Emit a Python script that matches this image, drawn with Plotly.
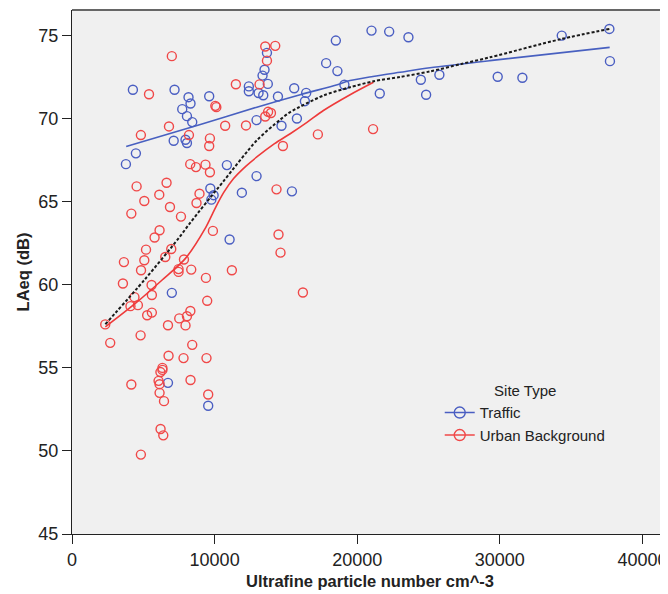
import plotly.graph_objects as go

# ---- data (x in particles cm^-3, y in dB) ----
traffic_x = [4270, 7190, 8170, 8310, 9620, 7730, 8060, 8430, 12400, 12400,
             12940, 7130, 7960, 8060, 4480, 3780, 10860, 12940, 9700, 9930,
             9770, 11910, 11050, 7000, 6730, 9550, 13670, 13500, 13360, 13730,
             13080, 13410, 14440, 15580, 16420, 16330, 17820, 18500, 18610, 19100,
             21000, 22240, 21580, 15770, 14690, 15420, 23590, 34340, 37680, 37720,
             24460, 25760, 24830, 29850, 31580]
traffic_y = [71.75, 71.75, 71.30, 70.92, 71.36, 70.58, 70.16, 69.80, 71.95, 71.66,
             69.92, 68.68, 68.74, 68.54, 67.92, 67.27, 67.21, 66.55, 65.80, 65.40,
             65.13, 65.55, 62.73, 59.52, 54.10, 52.72, 73.97, 72.95, 72.60, 72.10,
             71.55, 71.42, 71.34, 71.84, 71.56, 71.06, 73.35, 74.71, 72.87, 72.05,
             75.31, 75.25, 71.52, 70.02, 69.58, 65.63, 74.91, 75.01, 75.41, 73.47,
             72.35, 72.65, 71.45, 72.53, 72.47]

urban_x = [7000, 5400, 10050, 10120, 11490, 13150, 6800, 4830, 8200, 10740,
           12200, 9670, 9620, 8290, 8690, 9360, 9670, 4530, 6630, 6120,
           8940, 5070, 8730, 4160, 6870, 7640, 9880, 6140, 5790, 5190,
           6960, 6540, 3640, 5070, 7850, 4840, 7470, 7470, 8360, 11210,
           9390, 3570, 5580, 5600, 4380, 4100, 4620, 9480, 8300, 8060,
           7520, 5600, 5270, 6730, 7960, 2330, 2680, 4810, 8430, 6770,
           7820, 9430, 6340, 6340, 6200, 4160, 6070, 6140, 8310, 6140,
           6450, 9550, 6210, 6400, 4830, 13550, 14250, 13670, 13750, 13950,
           13550, 21110, 17240, 14790, 14340, 14480, 14620, 16190]
urban_y = [73.77, 71.48, 70.78, 70.70, 72.08, 72.07, 69.54, 69.02, 69.02, 69.58,
           69.60, 68.82, 68.36, 67.27, 67.09, 67.24, 66.78, 65.93, 66.15, 65.43,
           65.49, 65.05, 64.93, 64.29, 64.69, 64.11, 63.25, 63.29, 62.85, 62.12,
           62.16, 61.68, 61.37, 61.48, 61.53, 60.88, 60.95, 60.78, 60.92, 60.88,
           60.42, 60.08, 59.99, 59.39, 59.26, 58.72, 58.78, 59.04, 58.43, 58.11,
           57.98, 58.33, 58.17, 57.57, 57.56, 57.62, 56.51, 56.96, 56.39, 55.73,
           55.59, 55.59, 55.00, 54.88, 54.75, 54.00, 54.22, 54.02, 54.27, 53.50,
           53.00, 53.40, 51.32, 50.94, 49.78, 74.35, 74.39, 73.50, 70.42, 70.35,
           70.14, 69.38, 69.06, 68.36, 65.75, 63.03, 61.94, 59.54]

# fit lines
traffic_fit_x = [3800, 9000, 12960, 16000, 18600, 19500, 21100, 23000, 25100, 29300, 37700]
traffic_fit_y = [68.33, 69.66, 70.70, 71.45, 72.05, 72.30, 72.55, 72.80, 73.07, 73.50, 74.30]

urban_fit_x = [2340, 4440, 6300, 7940, 9340, 10000, 10630, 11330, 12200, 12960,
               14200, 15300, 16500, 17630, 19500, 21140]
urban_fit_y = [57.47, 58.88, 60.28, 61.58, 63.40, 64.55, 65.55, 66.40, 67.15, 67.70,
               68.50, 69.10, 69.80, 70.50, 71.45, 72.20]

total_fit_x = [2340, 5130, 7470, 8300, 10630, 12960, 14600, 15300, 17630, 19500,
               21140, 23000, 25100, 27300, 29300, 34300, 37680]
total_fit_y = [57.63, 60.35, 62.80, 63.75, 66.25, 68.70, 69.95, 70.40, 71.40, 71.90,
               72.26, 72.52, 72.85, 73.30, 73.70, 74.80, 75.41]

x_ticks = [0, 10000, 20000, 30000, 40000]
y_ticks = [45, 50, 55, 60, 65, 70, 75]
series_names = ["Traffic", "Urban Background"]

BLUE = "#4a5ec2"
RED = "#f04848"
BLUE_LINE = "#4860c0"
RED_LINE = "#ee3a3a"
FONT = "Liberation Sans, Arial, sans-serif"

fig = go.Figure()

# scatter points
fig.add_trace(go.Scatter(x=traffic_x, y=traffic_y, mode="markers", showlegend=False,
                         marker=dict(symbol="circle-open", size=9, color=BLUE,
                                     line=dict(width=1.4, color=BLUE))))
fig.add_trace(go.Scatter(x=urban_x, y=urban_y, mode="markers", showlegend=False,
                         marker=dict(symbol="circle-open", size=9, color=RED,
                                     line=dict(width=1.4, color=RED))))

# fit lines
fig.add_trace(go.Scatter(x=traffic_fit_x, y=traffic_fit_y, mode="lines", showlegend=False,
                         line=dict(color=BLUE_LINE, width=1.6, shape="spline", smoothing=0.8)))
fig.add_trace(go.Scatter(x=urban_fit_x, y=urban_fit_y, mode="lines", showlegend=False,
                         line=dict(color=RED_LINE, width=1.6, shape="spline", smoothing=0.8)))
fig.add_trace(go.Scatter(x=total_fit_x, y=total_fit_y, mode="lines", showlegend=False,
                         line=dict(color="#1a1a1a", width=2, dash="3px,2px",
                                   shape="spline", smoothing=0.8)))

# legend entries (line + open circle)
for name, col in zip(series_names, [BLUE, RED]):
    fig.add_trace(go.Scatter(x=[None], y=[None], mode="lines+markers", name=name,
                             line=dict(color=col, width=1.4),
                             marker=dict(symbol="circle-open", size=11, color=col,
                                         line=dict(width=1.4, color=col))))

# page body has an 8px margin, so the figure is 8px smaller and margins shifted
fig.update_layout(
    width=660, height=586,
    margin=dict(l=64, r=0, t=2, b=60, autoexpand=False),
    paper_bgcolor="white",
    plot_bgcolor="#f0f0f0",
    font=dict(family=FONT, size=18, color="#222222"),
    xaxis=dict(range=[0, 41790], tickvals=x_ticks, ticktext=[str(v) for v in x_ticks],
               automargin=False,
               showgrid=False, zeroline=False, showline=True, linecolor="#222222",
               linewidth=1.2, ticks="outside", ticklen=9, tickcolor="#222222",
               tickfont=dict(size=18),
               title=dict(text="<b>Ultrafine particle number cm^-3</b>",
                          font=dict(size=16.5), standoff=6)),
    yaxis=dict(range=[45, 76.55], tickvals=y_ticks, showgrid=False, zeroline=False,
               automargin=False,
               showline=True, linecolor="#222222", linewidth=1.2, ticks="outside",
               ticklen=9, tickcolor="#222222", tickfont=dict(size=18),
               title=dict(text="<b>LAeq (dB)</b>", font=dict(size=16.5), standoff=4)),
    legend=dict(x=0.617, y=0.30, xanchor="left", yanchor="top",
                bgcolor="rgba(0,0,0,0)", borderwidth=0,
                font=dict(size=15, color="#222222"),
                title=dict(text="Site Type", side="top center", font=dict(size=15)),
                tracegroupgap=0, itemwidth=30),
    shapes=[dict(type="line", xref="paper", yref="paper", x0=0, x1=1, y0=1, y1=1,
                 line=dict(color="#666666", width=2))],
)

fig.write_html("out.html")
